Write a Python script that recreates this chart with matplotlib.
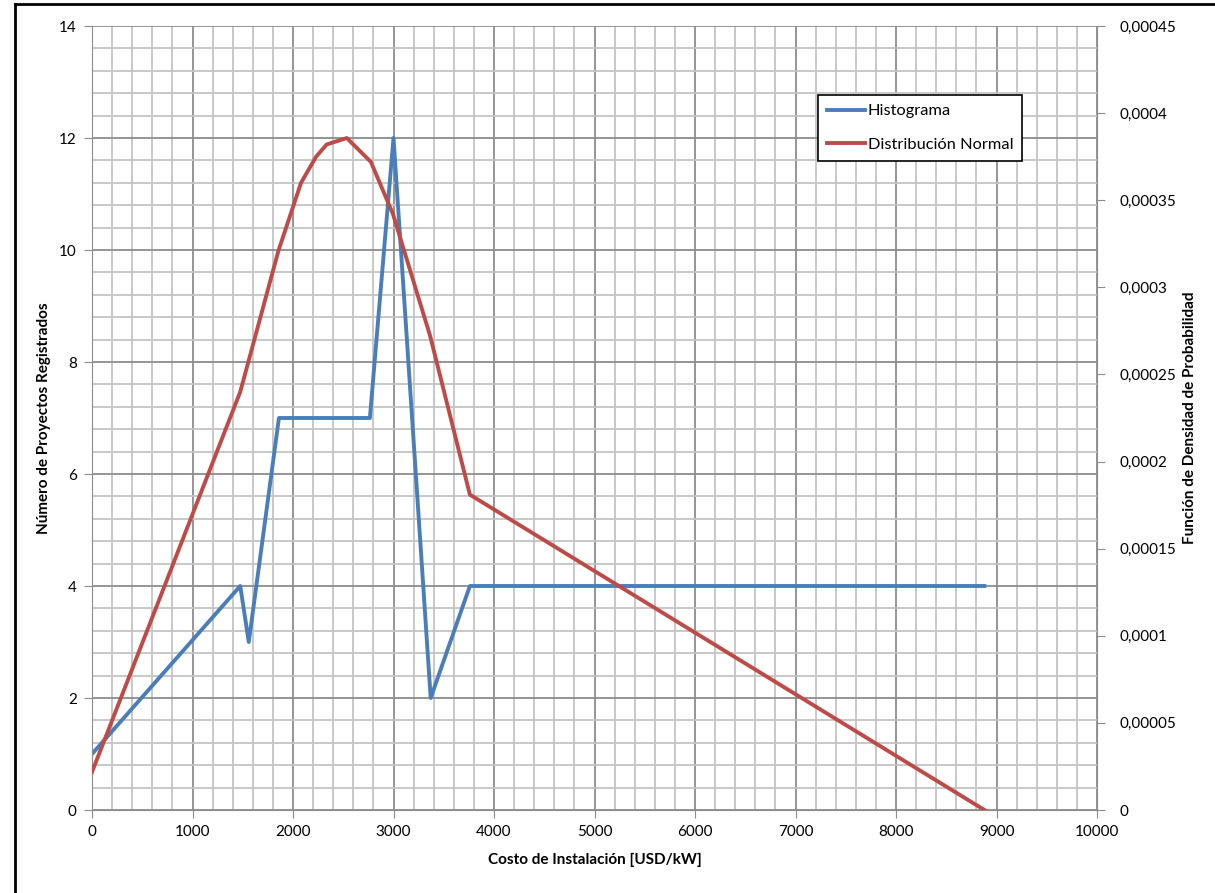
import numpy as np
import matplotlib.pyplot as plt
from matplotlib.ticker import MultipleLocator, FuncFormatter
from matplotlib.lines import Line2D

plt.rcParams['font.family'] = ['Lato', 'DejaVu Sans']

# Histograma (eje izquierdo)
hist_x = [0, 1475, 1560, 1860, 2765, 3000, 3370, 3760, 8880]
hist_y = [1, 4, 3, 7, 7, 12, 2, 4, 4]

# Distribución normal (eje derecho)
norm_x = [0, 1475, 1855, 2080, 2230, 2335, 2535, 2775, 2995, 3365, 3760, 8880]
norm_y = [0.0000218, 0.00024, 0.000321, 0.00036, 0.000375, 0.000382,
          0.0003857, 0.000372, 0.000342, 0.000272, 0.000181, 0.0]

blue = '#4A7EBB'
red = '#BE4B48'


def coma(v, pos):
    if v == 0:
        return '0'
    return ('%.5f' % v).rstrip('0').replace('.', ',')


fig = plt.figure(figsize=(12.15, 8.93), dpi=100)
ax = fig.add_axes([92 / 1215, 83 / 893, 1005 / 1215, 784 / 893])
ax2 = ax.twinx()

ax.set_xlim(0, 10000)
ax.set_ylim(0, 14)
ax2.set_ylim(0, 0.00045)

ax.xaxis.set_major_locator(MultipleLocator(1000))
ax.xaxis.set_minor_locator(MultipleLocator(200))
ax.yaxis.set_major_locator(MultipleLocator(2))
ax.yaxis.set_minor_locator(MultipleLocator(0.4))

ax.grid(which='minor', color='#c4c4c4', linewidth=1.3)
ax.grid(which='major', color='#8c8c8c', linewidth=1.3)
ax.set_axisbelow(True)

ax.plot(hist_x, hist_y, color=blue, linewidth=2.8)
ax2.plot(norm_x, norm_y, color=red, linewidth=2.8)

for a in (ax, ax2):
    for s in a.spines.values():
        s.set_visible(False)
ax.spines['left'].set_visible(True)
ax.spines['left'].set_color('#8c8c8c')
ax.spines['bottom'].set_visible(True)
ax.spines['bottom'].set_color('#8c8c8c')
ax2.spines['right'].set_visible(True)
ax2.spines['right'].set_color('#8c8c8c')

ax.tick_params(which='major', length=6, color='#8c8c8c', labelsize=11, pad=5)
ax.tick_params(which='minor', length=0)
ax2.tick_params(which='major', length=6, color='#8c8c8c', labelsize=11, pad=10)
ax2.set_yticks(np.arange(0, 0.000451, 0.00005))
ax2.yaxis.set_major_formatter(FuncFormatter(coma))

ax.set_xlabel('Costo de Instalación [USD/kW]', fontsize=11, fontweight='bold', labelpad=10)
ax.set_ylabel('Número de Proyectos Registrados', fontsize=11, fontweight='bold', labelpad=6)
ax2.set_ylabel('Función de Densidad de Probabilidad', fontsize=11, fontweight='bold',
               rotation=90, labelpad=5)

handles = [Line2D([], [], color=blue, linewidth=2.8), Line2D([], [], color=red, linewidth=2.8)]
leg = ax2.legend(handles, ['Histograma', 'Distribución Normal'], loc='upper left',
                 bbox_to_anchor=(0.722, 0.912), fontsize=11.8, fancybox=False,
                 framealpha=1, edgecolor='black', handlelength=2.35, handletextpad=0.15,
                 labelspacing=1.15, borderpad=0.55, borderaxespad=0)
leg.get_frame().set_linewidth(1.2)

# marco del gráfico
fig.add_artist(Line2D([15 / 1215, 15 / 1215], [0, 1 - 4 / 893], color='black',
                      linewidth=2, transform=fig.transFigure))
fig.add_artist(Line2D([15 / 1215, 1], [1 - 4 / 893, 1 - 4 / 893], color='black',
                      linewidth=2, transform=fig.transFigure))

fig.savefig('out.png', dpi=100)
